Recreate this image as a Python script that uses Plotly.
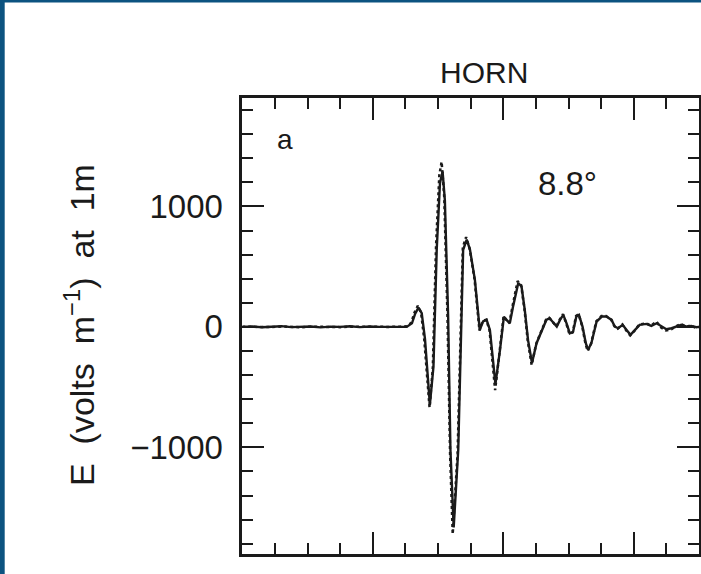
import plotly.graph_objects as go

# ---------------- data ----------------
baseline_t = [0, 1.5, 3, 4.5, 6, 7.5, 9, 10.5, 12, 13.5, 15, 16.5, 18, 19.5, 21, 22.5]
baseline_e_solid = [0, 4, -3, 2, 6, -2, 0, 3, -4, 2, 0, 5, -2, 3, 0, 2]
baseline_e_dot = [2, 0, 3, -2, 4, 0, -3, 2, 0, 4, -2, 2, 0, 4, -2, 0]

pulse_t_solid = [24.2, 25.2, 26.0, 26.5, 27.0, 27.5, 28.0, 28.5, 28.75, 29.3, 29.8,
                 30.3, 30.7, 31.05, 31.55, 31.9, 32.4, 33.1, 33.6, 33.85, 34.4, 34.9,
                 35.65, 36.4, 36.9, 37.45, 37.95, 38.45, 38.8, 39.5, 40.1, 40.5, 41.0,
                 41.5, 42.3, 42.8, 43.3, 43.8, 44.4, 45.1, 45.9, 46.6, 47.1, 47.6, 48.2,
                 48.7, 49.2, 49.7, 50.2, 50.7, 51.2, 51.6, 52.15, 52.65, 53.0, 53.5,
                 54.3, 55.1, 55.8, 56.6, 57.1, 57.6, 58.3, 58.9, 59.5, 60.2, 60.9,
                 61.95, 62.7, 63.5, 64.25, 65.0, 65.8, 66.55, 67.3, 68.1, 68.8, 69.6, 70]
pulse_e_solid = [0, 0, 30, 110, 160, 115, -100, -450, -645, -330, 640,
                 1195, 1290, 1050, 85, -1020, -1665, -1020, 85, 640, 725, 640,
                 390, -25, 45, 58, -25, -300, -475, -190, 85, 58, 30,
                 170, 365, 335, 140, -110, -300, -135, -25, 58, 72, 44, 2,
                 58, 100, 30, -53, -40, 86, 100, 2, -135, -190, -135,
                 44, 86, 86, 58, 2, -11, 17, -25, -66, -25, 17,
                 25, 8, 30, 2, -19, -11, 2, 17, 2, 8, -3, 0]

pulse_t_dot = [24.2, 25.2, 25.9, 26.4, 26.9, 27.4, 27.9, 28.4, 28.7, 29.2, 29.7,
               30.2, 30.55, 30.95, 31.45, 31.85, 32.25, 33.0, 33.5, 33.8, 34.3, 34.85,
               35.6, 36.35, 36.85, 37.4, 37.9, 38.4, 38.75, 39.45, 40.05, 40.45, 40.95,
               41.45, 42.2, 42.75, 43.25, 43.75, 44.35, 45.05, 45.85, 46.55, 47.05, 47.55, 48.15,
               48.65, 49.15, 49.65, 50.15, 50.65, 51.15, 51.55, 52.1, 52.6, 52.95, 53.45,
               54.25, 55.05, 55.75, 56.55, 57.05, 57.55, 58.25, 58.85, 59.45, 60.15, 60.85,
               61.9, 62.65, 63.45, 64.2, 64.95, 65.75, 66.5, 67.25, 68.05, 68.75, 69.55, 70]
pulse_e_dot = [2, 5, 35, 120, 175, 120, -110, -480, -670, -340, 680,
               1260, 1370, 1080, 90, -1060, -1720, -1050, 90, 660, 745, 650,
               395, -30, 50, 60, -30, -320, -525, -200, 90, 60, 35,
               180, 380, 345, 145, -115, -315, -140, -30, 60, 75, 45, 5,
               60, 105, 30, -60, -45, 90, 105, 5, -140, -200, -140,
               45, 90, 90, 60, 5, -15, 20, -30, -70, -30, 20,
               30, 10, 45, -5, -30, -20, 5, 25, 0, 12, -8, 0]

y_tick_vals = [-1000, 0, 1000]
y_tick_text = ["\u22121000", "0", "1000"]

# ---------------- figure ----------------
W, H = 701, 574
x0, x1 = 242.3 / W, 699.0 / W
y0, y1 = (H - 554.0) / H, (H - 98.0) / H
INK = "#1a1a1a"
FONT = "Liberation Sans"
SP = "\u00a0\u00a0"

fig = go.Figure()
fig.add_trace(go.Scatter(x=baseline_t + pulse_t_dot, y=baseline_e_dot + pulse_e_dot,
                         mode="lines", line=dict(color=INK, width=2.5, dash="dot"),
                         showlegend=False, hoverinfo="skip"))
fig.add_trace(go.Scatter(x=baseline_t + pulse_t_solid, y=baseline_e_solid + pulse_e_solid,
                         mode="lines", line=dict(color=INK, width=2.4),
                         showlegend=False, hoverinfo="skip"))

axis_common = dict(showline=True, linewidth=2.5, linecolor=INK, mirror="allticks",
                   ticks="inside", ticklen=22, tickwidth=2, tickcolor=INK,
                   showgrid=False, zeroline=False)

def note(text, px, py, size, angle=0):
    return dict(text=text, x=px / W, y=(H - py) / H, xref="paper", yref="paper",
                xanchor="center", yanchor="middle", textangle=angle,
                showarrow=False, font=dict(family=FONT, size=size, color=INK))

fig.update_layout(
    width=W, height=H,
    margin=dict(l=0, r=0, t=0, b=0),
    paper_bgcolor="white", plot_bgcolor="white",
    xaxis=dict(domain=[x0, x1], range=[0, 70], dtick=20, tick0=0,
               showticklabels=False,
               minor=dict(ticks="inside", ticklen=11, tickwidth=2, tickcolor=INK,
                          dtick=5, tick0=0, showgrid=False),
               **axis_common),
    yaxis=dict(domain=[y0, y1], range=[-1885, 1900],
               tickmode="array", tickvals=y_tick_vals, ticktext=y_tick_text,
               tickfont=dict(family=FONT, size=33, color=INK),
               ticklabelstandoff=10,
               minor=dict(ticks="inside", ticklen=11, tickwidth=2, tickcolor=INK,
                          dtick=200, tick0=0, showgrid=False),
               **axis_common),
    shapes=[
        dict(type="rect", xref="paper", yref="paper", x0=0, x1=1, y0=1 - 2.5 / H, y1=1,
             fillcolor="#0c5380", line=dict(width=0), layer="above"),
        dict(type="rect", xref="paper", yref="paper", x0=0, x1=4.7 / W, y0=0, y1=1,
             fillcolor="#0c5380", line=dict(width=0), layer="above"),
    ],
    annotations=[
        note("HORN", 483.5, 73, 30),
        note("a", 285, 139, 28),
        note("8.8°", 567, 183, 33),
        note("E" + SP + "(volts" + SP + "m<sup>\u22121</sup>)" + SP + "at" + SP + "1m",
             79, 325, 34, angle=-90),
    ],
)

fig.write_html("out.html")
